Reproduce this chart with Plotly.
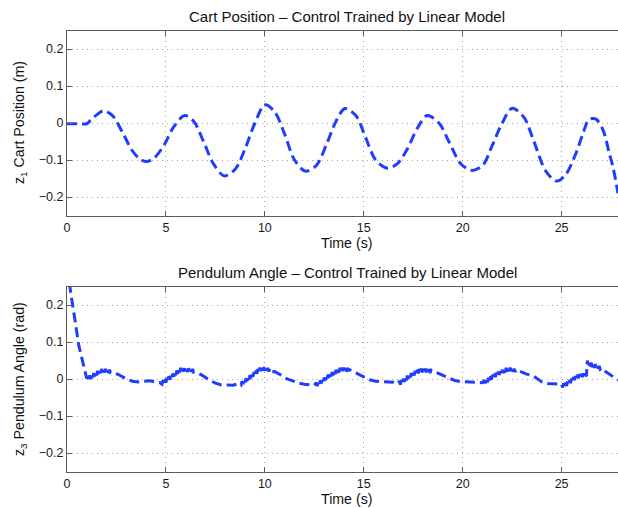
import plotly.graph_objects as go

# ---- cart position z1 (m) vs time (s) ----
cart_t = [0.0, 0.5, 1.0, 1.2, 1.5, 1.85, 2.3, 2.8, 3.3, 3.7, 4.0, 4.4, 4.9, 5.4, 5.95,
          6.4, 6.9, 7.4, 7.95, 8.5, 9.0, 9.5, 10.0, 10.5, 11.0, 11.5, 12.05, 12.6, 13.1,
          13.6, 14.05, 14.6, 15.1, 15.6, 16.2, 16.7, 17.2, 17.7, 18.2, 18.8, 19.3, 19.9,
          20.45, 21.0, 21.5, 22.0, 22.5, 23.1, 23.6, 24.2, 24.75, 25.2, 25.7, 26.1, 26.35,
          26.55, 26.75, 27.1, 27.4, 27.6, 27.85]
cart_z1 = [-0.002, -0.002, -0.002, 0.008, 0.022, 0.033, 0.020, -0.025, -0.075, -0.098, -0.104,
           -0.095, -0.060, -0.010, 0.020, 0.005, -0.050, -0.110, -0.143, -0.125, -0.070, 0.000,
           0.049, 0.030, -0.030, -0.100, -0.130, -0.115, -0.060, 0.005, 0.039, 0.020, -0.040,
           -0.100, -0.122, -0.110, -0.070, -0.015, 0.020, 0.000, -0.050, -0.110, -0.128, -0.115,
           -0.060, 0.000, 0.040, 0.015, -0.050, -0.130, -0.157, -0.140, -0.085, -0.025, 0.008,
           0.012, 0.010, -0.020, -0.080, -0.120, -0.190]

# ---- pendulum angle z3 (rad) vs time (s) ----
pend_t = [
    0.0, 0.2, 0.4, 0.6, 0.8, 0.95,
    1.00, 1.05, 1.10, 1.15, 1.20, 1.25, 1.30, 1.35, 1.40, 1.45, 1.50, 1.55, 1.60, 1.65,
    1.70, 1.75, 1.80, 1.85, 1.90, 1.95, 2.00, 2.05, 2.10, 2.15, 2.20,
    2.4, 2.6, 2.8, 3.0, 3.3, 3.6, 3.9, 4.2, 4.5, 4.7,
    4.80, 4.85, 4.90, 4.95, 5.00, 5.05, 5.10, 5.15, 5.20, 5.25, 5.30, 5.35, 5.40, 5.45,
    5.50, 5.55, 5.60, 5.65, 5.70, 5.75, 5.80, 5.85, 5.90, 5.95, 6.00, 6.05, 6.10, 6.15,
    6.20, 6.25, 6.30, 6.35, 6.40,
    6.6, 6.8, 7.0, 7.2, 7.5, 7.8, 8.1, 8.4, 8.7,
    8.80, 8.85, 8.90, 8.95, 9.00, 9.05, 9.10, 9.15, 9.20, 9.25, 9.30, 9.35, 9.40, 9.45,
    9.50, 9.55, 9.60, 9.65, 9.70, 9.75, 9.80, 9.85, 9.90, 9.95, 10.00, 10.05, 10.10,
    10.15, 10.20, 10.25, 10.30,
    10.5, 10.7, 10.9, 11.1, 11.4, 11.7, 12.0, 12.3, 12.5,
    12.60, 12.65, 12.70, 12.75, 12.80, 12.85, 12.90, 12.95, 13.00, 13.05, 13.10, 13.15,
    13.20, 13.25, 13.30, 13.35, 13.40, 13.45, 13.50, 13.55, 13.60, 13.65, 13.70, 13.75,
    13.80, 13.85, 13.90, 13.95, 14.00, 14.05, 14.10, 14.15, 14.20,
    14.4, 14.6, 14.8, 15.0, 15.3, 15.6, 15.9, 16.2, 16.5, 16.7,
    16.80, 16.85, 16.90, 16.95, 17.00, 17.05, 17.10, 17.15, 17.20, 17.25, 17.30, 17.35,
    17.40, 17.45, 17.50, 17.55, 17.60, 17.65, 17.70, 17.75, 17.80, 17.85, 17.90, 17.95,
    18.00, 18.05, 18.10, 18.15, 18.20, 18.25, 18.30, 18.35, 18.40,
    18.6, 18.8, 19.0, 19.3, 19.6, 19.9, 20.2, 20.5, 20.8, 21.0,
    21.10, 21.15, 21.20, 21.25, 21.30, 21.35, 21.40, 21.45, 21.50, 21.55, 21.60, 21.65,
    21.70, 21.75, 21.80, 21.85, 21.90, 21.95, 22.00, 22.05, 22.10, 22.15, 22.20, 22.25,
    22.30, 22.35, 22.40, 22.45, 22.50, 22.55, 22.60, 22.65, 22.70,
    22.9, 23.2, 23.6, 24.0, 24.3, 24.6, 24.9,
    25.00, 25.05, 25.10, 25.15, 25.20, 25.25, 25.30, 25.35, 25.40, 25.45, 25.50, 25.55,
    25.60, 25.65, 25.70, 25.75, 25.80, 25.85, 25.90, 25.95, 26.00, 26.05, 26.10, 26.15,
    26.20, 26.25,
    26.30, 26.35, 26.40, 26.45, 26.50, 26.55, 26.60, 26.65, 26.70, 26.75, 26.80, 26.85,
    26.90, 26.95, 27.00,
    27.2, 27.4, 27.6, 27.85]
pend_z3 = [
    0.300, 0.235, 0.160, 0.090, 0.040, 0.012,
    0.001, 0.011, 0.000, 0.010, 0.000, 0.012, 0.004, 0.016, 0.007, 0.019, 0.010, 0.022,
    0.013, 0.024, 0.016, 0.027, 0.018, 0.028, 0.017, 0.027, 0.017, 0.026, 0.016, 0.025,
    0.017,
    0.016, 0.012, 0.006, 0.000, -0.006, -0.008, -0.006, -0.005, -0.009, -0.010,
    -0.014, -0.004, -0.013, -0.001, -0.010, 0.003, -0.006, 0.007, -0.002, 0.011, 0.002,
    0.015, 0.006, 0.019, 0.010, 0.023, 0.014, 0.027, 0.018, 0.030, 0.020, 0.030, 0.020,
    0.029, 0.019, 0.028, 0.019, 0.029, 0.020, 0.029, 0.019, 0.027, 0.018,
    0.016, 0.011, 0.004, -0.003, -0.011, -0.016, -0.016, -0.017, -0.012,
    -0.016, -0.006, -0.014, -0.002, -0.010, 0.002, -0.006, 0.007, -0.002, 0.011, 0.002,
    0.015, 0.006, 0.019, 0.010, 0.023, 0.014, 0.027, 0.018, 0.031, 0.021, 0.033, 0.023,
    0.032, 0.022, 0.031, 0.021, 0.030, 0.020, 0.028, 0.019,
    0.020, 0.015, 0.008, 0.001, -0.006, -0.011, -0.014, -0.015, -0.017,
    -0.010, -0.019, -0.008, -0.016, -0.004, -0.012, 0.000, -0.008, 0.004, -0.004, 0.008,
    0.000, 0.012, 0.004, 0.016, 0.007, 0.019, 0.010, 0.022, 0.013, 0.025, 0.016, 0.028,
    0.018, 0.030, 0.020, 0.031, 0.021, 0.031, 0.021, 0.029, 0.020, 0.027,
    0.022, 0.018, 0.012, 0.006, -0.002, -0.006, -0.007, -0.007, -0.009, -0.013,
    -0.006, -0.015, -0.003, -0.012, 0.001, -0.008, 0.005, -0.004, 0.009, 0.000, 0.013,
    0.004, 0.016, 0.007, 0.019, 0.010, 0.022, 0.013, 0.025, 0.015, 0.027, 0.017, 0.028,
    0.018, 0.029, 0.019, 0.028, 0.018, 0.027, 0.017, 0.026, 0.016, 0.024,
    0.019, 0.014, 0.009, 0.002, -0.004, -0.007, -0.008, -0.008, -0.009, -0.010,
    -0.003, -0.012, 0.000, -0.009, 0.003, -0.006, 0.007, -0.002, 0.011, 0.002, 0.014,
    0.005, 0.017, 0.008, 0.020, 0.011, 0.023, 0.014, 0.025, 0.016, 0.028, 0.018, 0.030,
    0.020, 0.031, 0.021, 0.031, 0.021, 0.030, 0.020, 0.028, 0.019, 0.025,
    0.020, 0.014, 0.007, -0.008, -0.012, -0.013, -0.014,
    -0.014, -0.023, -0.012, -0.022, -0.010, -0.019, -0.007, -0.015, -0.003, -0.011,
    0.001, -0.007, 0.005, -0.003, 0.008, 0.000, 0.011, 0.002, 0.013, 0.004, 0.014, 0.005,
    0.015, 0.006, 0.014, 0.007,
    0.050, 0.038, 0.047, 0.034, 0.044, 0.032, 0.041, 0.030, 0.040, 0.029, 0.038, 0.028,
    0.035, 0.027, 0.030,
    0.021, 0.013, 0.005, -0.003]

x_ticks = [0, 5, 10, 15, 20, 25]
y_ticks = [-0.2, -0.1, 0, 0.1, 0.2]
y_tick_text = ["\u22120.2", "\u22120.1", "0", "0.1", "0.2"]

titles = ["Cart Position \u2013 Control Trained by Linear Model",
          "Pendulum Angle \u2013 Control Trained by Linear Model"]
y_titles = ["z<sub>1</sub> Cart Position (m)", "z<sub>3</sub> Pendulum Angle (rad)"]
x_title = "Time (s)"

W, H = 618, 508
LEFT = 67
FONT = "Liberation Sans, Arial, Helvetica, sans-serif"
LINE_BLUE = "#1f3dff"
FRAME = "#5c5c5c"

# axes boxes in pixels (top, bottom)
boxes = [(30.5, 215.5), (286.5, 471.5)]

fig = go.Figure()
fig.add_trace(go.Scatter(x=cart_t, y=cart_z1, mode="lines", xaxis="x", yaxis="y",
                         line=dict(color=LINE_BLUE, width=3, dash="10px,5px", shape="spline",
                                   smoothing=0.9),
                         showlegend=False, hoverinfo="skip"))
fig.add_trace(go.Scatter(x=pend_t, y=pend_z3, mode="lines", xaxis="x2", yaxis="y2",
                         line=dict(color=LINE_BLUE, width=3, dash="10px,5px"),
                         showlegend=False, hoverinfo="skip"))


def ydom(top, bot):
    return [1 - bot / H, 1 - top / H]


axis_common = dict(showline=True, linecolor=FRAME, linewidth=1, ticks="inside", ticklen=5,
                   tickcolor=FRAME, tickwidth=1, showgrid=True, gridcolor="#a6a6a6",
                   griddash="1px,4px", gridwidth=1, zeroline=False,
                   tickfont=dict(family=FONT, size=12.5, color="#1a1a1a"))

layout = dict(width=W, height=H, margin=dict(l=LEFT, r=0, t=0, b=0),
              paper_bgcolor="white", plot_bgcolor="white", showlegend=False)

annotations = []
for i, (top, bot) in enumerate(boxes):
    xa = "xaxis" if i == 0 else "xaxis2"
    ya = "yaxis" if i == 0 else "yaxis2"
    layout[xa] = dict(axis_common, domain=[0, 1], range=[0, 27.85], tickvals=x_ticks,
                      ticktext=[str(v) for v in x_ticks], mirror="ticks",
                      anchor="y" if i == 0 else "y2")
    layout[ya] = dict(axis_common, domain=ydom(top, bot), range=[-0.25, 0.25],
                      tickvals=y_ticks, ticktext=y_tick_text,
                      anchor="x" if i == 0 else "x2")
    # plot title
    annotations.append(dict(text=titles[i], xref="paper", yref="paper",
                            x=(347 - LEFT) / (W - LEFT), y=1 - (top - 14) / H,
                            xanchor="center", yanchor="middle", showarrow=False,
                            font=dict(family=FONT, size=15, color="#111")))
    # x axis title
    annotations.append(dict(text=x_title, xref="paper", yref="paper",
                            x=(347 - LEFT) / (W - LEFT), y=1 - (bot + 27) / H,
                            xanchor="center", yanchor="middle", showarrow=False,
                            font=dict(family=FONT, size=14.2, color="#111")))
    # y axis title
    annotations.append(dict(text=y_titles[i], xref="paper", yref="paper",
                            x=(20 - LEFT) / (W - LEFT), y=1 - ((top + bot) / 2) / H,
                            xanchor="center", yanchor="middle", textangle=-90,
                            showarrow=False,
                            font=dict(family=FONT, size=14.2, color="#111")))

layout["annotations"] = annotations
fig.update_layout(**layout)
fig.write_html("out.html")
